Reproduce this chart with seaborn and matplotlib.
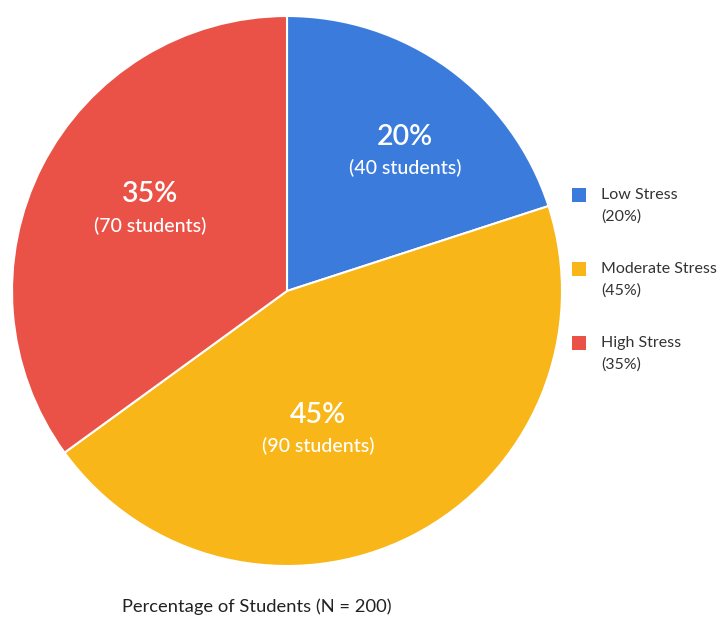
import matplotlib
matplotlib.use("Agg")
import matplotlib.pyplot as plt
from matplotlib.patches import Rectangle
import seaborn as sns

# Stress levels among surveyed students
categories = ["Low Stress", "Moderate Stress", "High Stress"]
percentages = [20, 45, 35]
students = [40, 90, 70]
total_students = 200
colors = ["#3A7BDC", "#F8B618", "#EB5247"]

sns.set_theme(style="white")
plt.rcParams["font.family"] = ["Lato", "DejaVu Sans"]

W, H = 721, 620
fig = plt.figure(figsize=(W / 100, H / 100), dpi=100)
fig.patch.set_facecolor("white")

# pie axes: square, centred near (287, 291) px with radius ~275 px
cx, cy, r = 287, 291, 275
ax = fig.add_axes([(cx - r) / W, (H - cy - r) / H, 2 * r / W, 2 * r / H])
wedges, _ = ax.pie(
    percentages,
    colors=colors,
    startangle=90,
    counterclock=False,
    radius=1.0,
    wedgeprops=dict(edgecolor="white", linewidth=1.5),
)
ax.set_xlim(-1.0, 1.0)
ax.set_ylim(-1.0, 1.0)
ax.set_aspect("equal")
ax.axis("off")

# in-slice labels (x, y in pie data units)
label_pos = [(0.43, 0.503), (0.113, -0.507), (-0.498, 0.294)]
for (x, y), p, n in zip(label_pos, percentages, students):
    ax.text(x, y + 0.057, f"{p}%", ha="center", va="center",
            color="white", fontsize=20.5, fontweight="semibold")
    ax.text(x, y - 0.057, f"({n} students)", ha="center", va="center",
            color="white", fontsize=14, fontweight="medium")

# legend drawn at the right
legend_top = 195
step = 74
for i, (cat, p, c) in enumerate(zip(categories, percentages, colors)):
    y1 = legend_top + i * step
    fig.patches.append(Rectangle((572 / W, (H - y1 - 7) / H), 14 / W, 14 / H,
                                 transform=fig.transFigure, facecolor=c,
                                 edgecolor="none"))
    fig.text(601 / W, (H - y1) / H, cat, ha="left", va="center",
             fontsize=11.5, color="#333333")
    fig.text(601 / W, (H - y1 - 22) / H, f"({p}%)", ha="left", va="center",
             fontsize=11.5, color="#333333")

fig.text(257 / W, (H - 607) / H, f"Percentage of Students (N = {total_students})",
         ha="center", va="center", fontsize=13.2, color="#222222")

fig.savefig("out.png", dpi=100, facecolor="white")
